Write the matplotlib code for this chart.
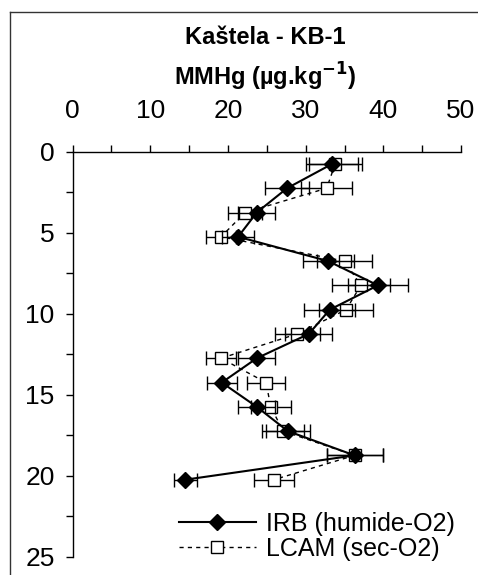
import numpy as np
import matplotlib
matplotlib.use("Agg")
from matplotlib import pyplot as plt
from matplotlib.lines import Line2D

plt.rcParams['font.family'] = ['Liberation Sans', 'DejaVu Sans']

# depth (cm) of each slice
depth = [0.75, 2.25, 3.75, 5.25, 6.75, 8.25, 9.75, 11.25, 12.75, 14.25, 15.75, 17.25, 18.75, 20.25]

# IRB (humide-O2)
irb = [33.4, 27.6, 23.7, 21.3, 32.9, 39.3, 33.1, 30.4, 23.7, 19.2, 23.7, 27.7, 36.3, 14.5]
irb_err = [3.3, 2.8, 2.4, 2.1, 3.3, 3.9, 3.3, 3.0, 2.4, 1.9, 2.4, 2.8, 3.6, 1.5]

# LCAM (sec-O2)
lcam = [33.8, 32.7, 22.2, 19.1, 35.0, 37.1, 35.2, 28.9, 19.1, 24.9, 25.5, 27.1, 36.3, 25.9]
lcam_err = [3.4, 3.3, 2.2, 1.9, 3.5, 3.7, 3.5, 2.9, 1.9, 2.5, 2.6, 2.7, 3.6, 2.6]

x_ticks = [0, 10, 20, 30, 40, 50]
y_ticks = [0, 5, 10, 15, 20, 25]

fig = plt.figure(figsize=(4.78, 5.75), dpi=100)
ax = fig.add_axes([0.152, 0.032, 0.8125, 0.704])

# LCAM behind
ax.errorbar(lcam, depth, xerr=lcam_err, fmt='none', ecolor='black',
            elinewidth=1.0, capsize=5, capthick=1.0, zorder=2)
ax.plot(lcam, depth, color='black', linestyle=(0, (3, 3)), linewidth=1.0,
        marker='s', markersize=8, markerfacecolor='white',
        markeredgecolor='black', markeredgewidth=1.0,
        label='LCAM (sec-O2)', zorder=3)

ax.errorbar(irb, depth, xerr=irb_err, fmt='none', ecolor='black',
            elinewidth=1.0, capsize=5, capthick=1.0, zorder=4)
ax.plot(irb, depth, color='black', linestyle='-', linewidth=1.5,
        marker='D', markersize=8, markerfacecolor='black',
        markeredgecolor='black', label='IRB (humide-O2)', zorder=5)

ax.set_xlim(0, 50)
ax.set_ylim(25, 0)
ax.xaxis.tick_top()
ax.set_xticks(x_ticks)
ax.set_xticks(np.arange(0, 51, 5), minor=True)
ax.set_yticks(y_ticks)
ax.set_yticks(np.arange(0, 25.1, 2.5), minor=True)
ax.tick_params(axis='x', which='both', direction='out', length=5, width=1,
               top=True, bottom=False, labeltop=True, labelbottom=False)
ax.tick_params(axis='x', which='major', labelsize=19, pad=15.5)
ax.tick_params(axis='y', which='both', direction='out', length=5, width=1)
ax.tick_params(axis='y', which='major', labelsize=19, pad=8)

for side in ['right', 'bottom']:
    ax.spines[side].set_visible(False)
for side in ['top', 'left']:
    ax.spines[side].set_linewidth(1.0)
    ax.spines[side].set_color('black')

handles, labels = ax.get_legend_handles_labels()
ax.legend(handles[::-1], labels[::-1], loc='lower right', frameon=False,
          fontsize=18, handlelength=3.1, handletextpad=0.4,
          labelspacing=0.05, borderaxespad=0.0,
          bbox_to_anchor=(1.01, -0.035))

fig.text(0.555, 0.935, 'Kaštela - KB-1', ha='center', va='center',
         fontsize=17, fontweight='bold')
fig.text(0.555, 0.866, 'MMHg (µg.kg$^{\\mathbf{-1}}$)', ha='center', va='center',
         fontsize=17, fontweight='bold')

# outer frame (top and left visible)
fig.add_artist(Line2D([0.021, 1.0], [0.979, 0.979], transform=fig.transFigure,
                      color='#333333', linewidth=1.0))
fig.add_artist(Line2D([0.021, 0.021], [0.0, 0.979], transform=fig.transFigure,
                      color='#333333', linewidth=1.0))

fig.savefig('out.png', dpi=100)
